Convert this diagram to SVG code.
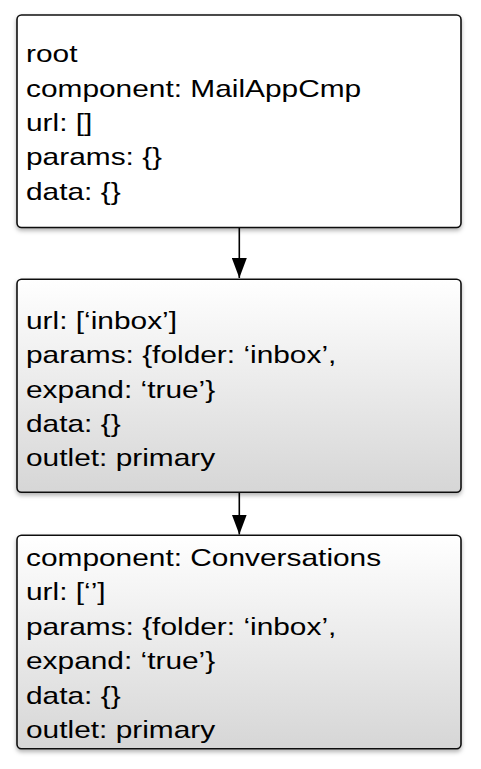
<svg xmlns="http://www.w3.org/2000/svg" width="481" height="769" viewBox="0 0 481 769">
<style>
.box{stroke:#111;stroke-width:1.6;}
.txt{font-family:"Liberation Sans",Arial,sans-serif;font-size:24px;fill:#000;}
.conn{stroke:#000;stroke-width:1.6;fill:none;}
</style>
<defs>
<linearGradient id="grad" x1="0" y1="0" x2="0" y2="1">
<stop offset="0" stop-color="#ffffff"/>
<stop offset="1" stop-color="#d6d6d6"/>
</linearGradient>
<filter id="shadow" x="-10%" y="-10%" width="120%" height="125%">
<feDropShadow dx="0" dy="2.5" stdDeviation="2" flood-color="#000" flood-opacity="0.3"/>
</filter>
<marker id="arrow" markerWidth="20" markerHeight="15" refX="20" refY="7.5" orient="auto" markerUnits="userSpaceOnUse" viewBox="0 0 20 15">
<path d="M0,0 L20,7.5 L0,15 Z" fill="#000"/>
</marker>
</defs>
<g id="connectors">
<line class="conn" x1="239.3" y1="228" x2="239.3" y2="278" marker-end="url(#arrow)"/>
<line class="conn" x1="239.3" y1="492.5" x2="239.3" y2="534.5" marker-end="url(#arrow)"/>
</g>
<g id="node-root">
<rect class="box" x="17" y="15" width="444" height="212.5" rx="4.5" fill="#fff" filter="url(#shadow)"/>
<g transform="translate(26,0) scale(1.245,1)">
<text class="txt" y="62.3">root</text>
<text class="txt" y="96.7">component: MailAppCmp</text>
<text class="txt" y="131.1">url: []</text>
<text class="txt" y="165.5">params: {}</text>
<text class="txt" y="199.9">data: {}</text>
</g>
</g>
<g id="node-inbox">
<rect class="box" x="17" y="279.2" width="444" height="213" rx="4.5" fill="url(#grad)" filter="url(#shadow)"/>
<g transform="translate(26,0) scale(1.245,1)">
<text class="txt" y="328.8">url: [‘inbox’]</text>
<text class="txt" y="363.2">params: {folder: ‘inbox’,</text>
<text class="txt" y="397.6">expand: ‘true’}</text>
<text class="txt" y="432">data: {}</text>
<text class="txt" y="466.4">outlet: primary</text>
</g>
</g>
<g id="node-conversations">
<rect class="box" x="17" y="535.2" width="444" height="213.5" rx="4.5" fill="url(#grad)" filter="url(#shadow)"/>
<g transform="translate(26,0) scale(1.245,1)">
<text class="txt" y="566">component: Conversations</text>
<text class="txt" y="600.4">url: [‘’]</text>
<text class="txt" y="634.8">params: {folder: ‘inbox’,</text>
<text class="txt" y="669.2">expand: ‘true’}</text>
<text class="txt" y="703.6">data: {}</text>
<text class="txt" y="738">outlet: primary</text>
</g>
</g>
</svg>
